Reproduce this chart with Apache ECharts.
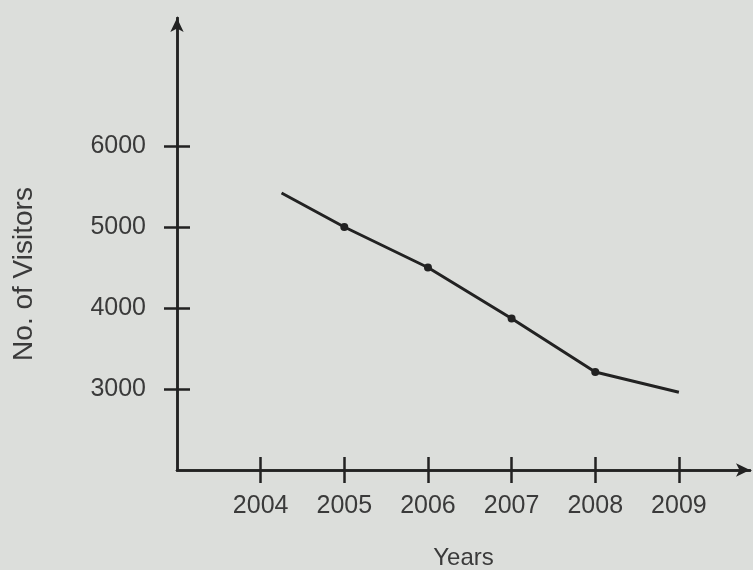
<!DOCTYPE html>
<html>
<head>
<meta charset="utf-8">
<script src="https://cdn.jsdelivr.net/npm/echarts@6/dist/echarts.min.js"></script>
<style>
html,body{margin:0;padding:0;background:#dcdedb;}
#chart{width:753px;height:570px;}
</style>
</head>
<body>
<div id="chart"></div>
<script>
// Data
const years = [2004.25, 2005, 2006, 2007, 2008, 2009];
const visitors = [5420, 5000, 4500, 3870, 3210, 2960];
const xTicks = [2004, 2005, 2006, 2007, 2008, 2009];
const yTicks = [3000, 4000, 5000, 6000];

const ink = '#222';
const textColor = '#3a3a3a';
const font = 'Liberation Sans, Arial, sans-serif';

const seriesData = years.map((y, i) => ({
  value: [y, visitors[i]],
  symbolSize: (i === 0 || i === years.length - 1) ? 0 : 8
}));

const plain = v => String(v);

const xBase = {
  type: 'value', min: 2003, max: 2009.85,
  splitLine: {show: false},
  axisLine: {show: true, lineStyle: {color: ink, width: 2.5}},
  axisTick: {show: true, customValues: xTicks, length: 13, lineStyle: {color: ink, width: 2.5}}
};
const yBase = {
  type: 'value', min: 2000, max: 7580,
  splitLine: {show: false},
  axisLine: {show: true, lineStyle: {color: ink, width: 2.5}},
  axisTick: {show: true, customValues: yTicks, length: 13, lineStyle: {color: ink, width: 2.5}}
};

const chart = echarts.init(document.getElementById('chart'));
chart.setOption({
  backgroundColor: '#dcdedb',
  animation: false,
  grid: {left: 177, right: 3, top: 18, bottom: 100, containLabel: false, outerBoundsMode: 'none'},
  xAxis: [
    Object.assign({}, xBase, {
      position: 'bottom',
      axisLine: {show: true, symbol: ['none', 'arrow'], symbolSize: [10, 14], lineStyle: {color: ink, width: 2.5}},
      axisLabel: {customValues: xTicks, formatter: plain, margin: 24, color: textColor, fontFamily: font, fontSize: 25},
      name: 'Years', nameLocation: 'middle', nameGap: 76,
      nameTextStyle: {color: textColor, fontFamily: font, fontSize: 24}
    }),
    Object.assign({}, xBase, {
      position: 'bottom', offset: 0,
      axisLabel: {show: false},
      axisTick: {show: true, inside: true, customValues: xTicks, length: 13, lineStyle: {color: ink, width: 2.5}}
    })
  ],
  yAxis: [
    Object.assign({}, yBase, {
      position: 'left',
      axisLine: {show: true, symbol: ['none', 'arrow'], symbolSize: [10, 14], lineStyle: {color: ink, width: 2.5}},
      axisLabel: {customValues: yTicks, formatter: plain, margin: 31, color: textColor, fontFamily: font, fontSize: 25},
      name: 'No. of Visitors', nameLocation: 'middle', nameGap: 139, nameRotate: 90,
      nameTextStyle: {color: textColor, fontFamily: font, fontSize: 28, padding: [0, 60, 0, 0]}
    }),
    Object.assign({}, yBase, {
      position: 'left', offset: 0,
      axisLabel: {show: false},
      axisTick: {show: true, inside: true, customValues: yTicks, length: 13, lineStyle: {color: ink, width: 2.5}}
    })
  ],
  series: [{
    type: 'line',
    xAxisIndex: 0, yAxisIndex: 0,
    data: seriesData,
    symbol: 'circle',
    lineStyle: {color: ink, width: 3},
    itemStyle: {color: ink},
    z: 5
  }]
});
</script>
</body>
</html>
